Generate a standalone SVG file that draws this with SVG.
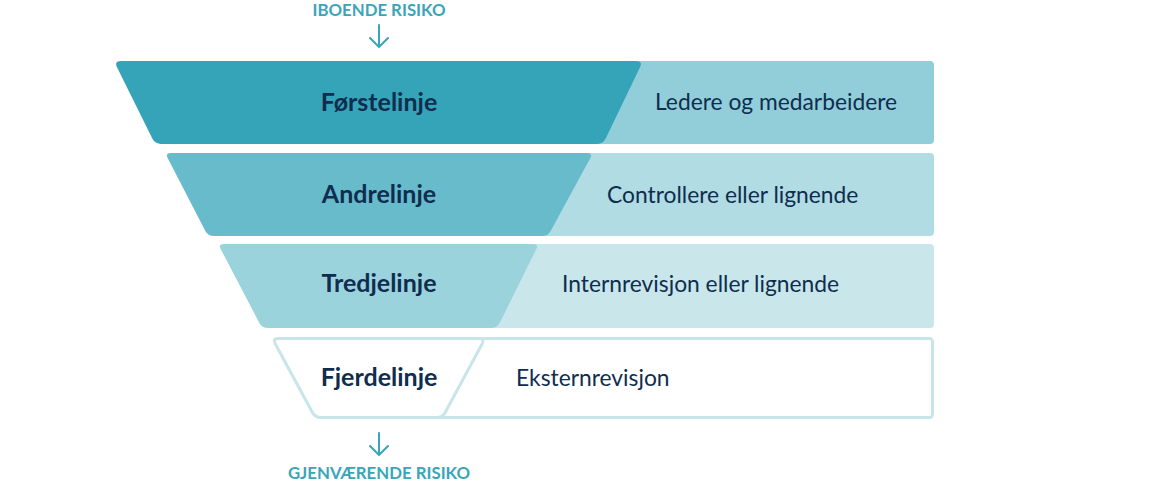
<svg xmlns="http://www.w3.org/2000/svg" width="1150" height="481" viewBox="0 0 1150 481">
<style>
.lbl{font-family:Lato,"Liberation Sans",sans-serif;font-weight:700;font-size:25px;fill:#0f2d4f;text-anchor:middle}
.desc{font-family:Lato,"Liberation Sans",sans-serif;font-size:22.8px;fill:#0f2d4f}
.risk{font-family:Lato,"Liberation Sans",sans-serif;font-weight:700;font-size:16.8px;fill:#3aa5b9;text-anchor:middle}
.arr{fill:none;stroke:#3aa5b9;stroke-width:2;stroke-linecap:round;stroke-linejoin:round}
</style>
<rect width="1150" height="481" fill="#fff"/>
<g id="top-label">
<text class="risk" x="379" y="16">IBOENDE RISIKO</text>
</g>
<g id="connectors">
<path class="arr" d="M379 25 V47 M370 38 L379 47 L388 38"/>
<path class="arr" d="M379 433 V455 M370 446 L379 455 L388 446"/>
</g>
<g id="row1">
<rect x="290" y="61" width="644" height="83" rx="4" fill="#92ceda"/>
<path d="M121 61 L636 61 Q643 61 640 67.3 L605.7 138.6 Q603 144 597 144 L161 144 Q155 144 152.3 138.6 L117 67.3 Q114 61 121 61 Z" fill="#35a4b8"/>
<text class="lbl" x="379" y="111">Førstelinje</text>
<text class="desc" x="655" y="110">Ledere og medarbeidere</text>
</g>
<g id="row2">
<rect x="300" y="153" width="634" height="83" rx="4" fill="#b1dce3"/>
<path d="M171 153 L587 153 Q593 153 590.2 158.3 L550.8 230.7 Q548 236 542 236 L214 236 Q208 236 205.2 230.7 L167.8 158.3 Q165 153 171 153 Z" fill="#67bbcb"/>
<text class="lbl" x="379" y="203">Andrelinje</text>
<text class="desc" x="607" y="203">Controllere eller lignende</text>
</g>
<g id="row3">
<rect x="300" y="244" width="634" height="84" rx="4" fill="#c9e7eb"/>
<path d="M224 244 L533 244 Q539 244 536.2 249.3 L499.8 322.7 Q497 328 491 328 L268 328 Q262 328 259.2 322.7 L220.8 249.3 Q218 244 224 244 Z" fill="#9bd3dc"/>
<text class="lbl" x="379" y="292">Tredjelinje</text>
<text class="desc" x="562" y="292">Internrevisjon eller lignende</text>
</g>
<g id="row4">
<rect x="320" y="338.5" width="612.5" height="79" rx="3" fill="#fff" stroke="#c8e5ea" stroke-width="3"/>
<path d="M278 338.5 L479 338.5 Q485 338.5 482.2 343.8 L445.3 412.2 Q442.5 417.5 436.5 417.5 L321 417.5 Q315 417.5 312.3 412.2 L275.2 343.8 Q272.5 338.5 278 338.5 Z" fill="#fff" stroke="#c8e5ea" stroke-width="3"/>
<text class="lbl" x="379" y="386">Fjerdelinje</text>
<text class="desc" x="516" y="386">Eksternrevisjon</text>
</g>
<g id="bottom-label">
<text class="risk" x="379" y="479">GJENVÆRENDE RISIKO</text>
</g>
</svg>
